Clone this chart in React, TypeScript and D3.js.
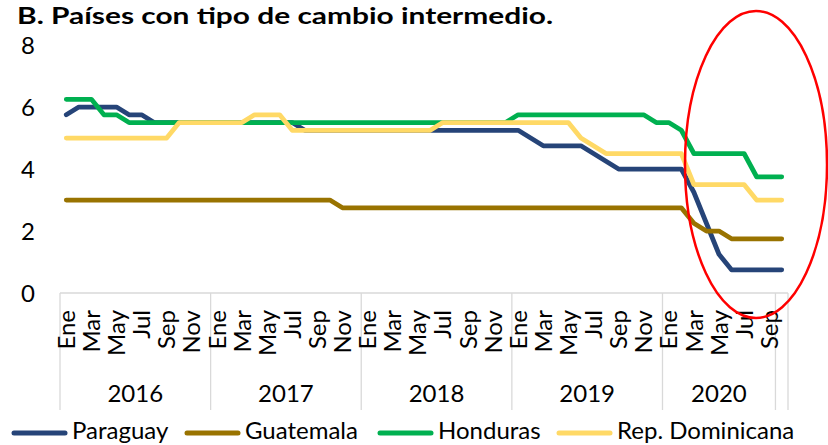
import React from "react";
import * as d3 from "d3";

// Monthly policy rates, Ene 2016 .. Oct 2020 (58 months)
const monthNames = ["Ene", "Feb", "Mar", "Abr", "May", "Jun", "Jul", "Ago", "Sep", "Oct", "Nov", "Dic"];
const years = ["2016", "2017", "2018", "2019", "2020"];
const monthsPerYear = [12, 12, 12, 12, 9]; // last month (Oct 2020) sits outside the year groups
const yTicks = [0, 2, 4, 6, 8];

const paraguay = [
  5.75, 6, 6, 6, 6, 5.75, 5.75, 5.5, 5.5, 5.5, 5.5, 5.5,
  5.5, 5.5, 5.5, 5.5, 5.5, 5.5, 5.5, 5.25, 5.25, 5.25, 5.25, 5.25,
  5.25, 5.25, 5.25, 5.25, 5.25, 5.25, 5.25, 5.25, 5.25, 5.25, 5.25, 5.25,
  5.25, 5.0, 4.75, 4.75, 4.75, 4.75, 4.5, 4.25, 4.0, 4.0, 4.0, 4.0,
  4.0, 4.0, 3.25, 2.25, 1.25, 0.75, 0.75, 0.75, 0.75, 0.75,
];
const guatemala = [
  3, 3, 3, 3, 3, 3, 3, 3, 3, 3, 3, 3,
  3, 3, 3, 3, 3, 3, 3, 3, 3, 3, 2.75, 2.75,
  2.75, 2.75, 2.75, 2.75, 2.75, 2.75, 2.75, 2.75, 2.75, 2.75, 2.75, 2.75,
  2.75, 2.75, 2.75, 2.75, 2.75, 2.75, 2.75, 2.75, 2.75, 2.75, 2.75, 2.75,
  2.75, 2.75, 2.25, 2.0, 2.0, 1.75, 1.75, 1.75, 1.75, 1.75,
];
const honduras = [
  6.25, 6.25, 6.25, 5.75, 5.75, 5.5, 5.5, 5.5, 5.5, 5.5, 5.5, 5.5,
  5.5, 5.5, 5.5, 5.5, 5.5, 5.5, 5.5, 5.5, 5.5, 5.5, 5.5, 5.5,
  5.5, 5.5, 5.5, 5.5, 5.5, 5.5, 5.5, 5.5, 5.5, 5.5, 5.5, 5.5,
  5.75, 5.75, 5.75, 5.75, 5.75, 5.75, 5.75, 5.75, 5.75, 5.75, 5.75, 5.5,
  5.5, 5.25, 4.5, 4.5, 4.5, 4.5, 4.5, 3.75, 3.75, 3.75,
];
const repDominicana = [
  5, 5, 5, 5, 5, 5, 5, 5, 5, 5.5, 5.5, 5.5,
  5.5, 5.5, 5.5, 5.75, 5.75, 5.75, 5.25, 5.25, 5.25, 5.25, 5.25, 5.25,
  5.25, 5.25, 5.25, 5.25, 5.25, 5.25, 5.5, 5.5, 5.5, 5.5, 5.5, 5.5,
  5.5, 5.5, 5.5, 5.5, 5.5, 5.0, 4.75, 4.5, 4.5, 4.5, 4.5, 4.5,
  4.5, 4.5, 3.5, 3.5, 3.5, 3.5, 3.5, 3.0, 3.0, 3.0,
];

const seriesNames = ["Paraguay", "Guatemala", "Honduras", "Rep. Dominicana"];
const seriesColors = ["#264478", "#997300", "#00B050", "#FFD966"];
const seriesData = [paraguay, guatemala, honduras, repDominicana];

const font = "Lato, 'DejaVu Sans', sans-serif";

export default function App() {
  const width = 828;
  const height = 445;
  const n = paraguay.length;

  const x = d3.scaleBand<number>().domain(d3.range(n)).range([60, 788]);
  const y = d3.scaleLinear().domain([0, 8]).range([293, 45]);
  const bw = x.bandwidth();
  const cx = (i: number) => (x(i) as number) + bw / 2;
  const edge = (i: number) => 60 + i * bw;

  const line = d3.line<number>()
    .x((d, i) => cx(i))
    .y((d) => y(d));

  // year group boundaries (category index)
  const bounds = [0];
  monthsPerYear.forEach((m) => bounds.push(bounds[bounds.length - 1] + m));
  bounds.push(n);

  const legendX = [12, 185, 378, 557];

  return (
    <svg width={width} height={height} style={{ position: "absolute", left: 0, top: 0 }} fontFamily={font}>
      <rect width={width} height={height} fill="#fff" />
      <text x={17} y={24} fontSize={23} fontWeight="bold" fill="#000" textLength={536} lengthAdjust="spacingAndGlyphs">
        B. Países con tipo de cambio intermedio.
      </text>

      {yTicks.map((t) => (
        <text key={t} x={35} y={y(t)} dy="0.36em" textAnchor="end" fontSize={24} fill="#000">
          {t}
        </text>
      ))}

      <line x1={60} x2={788} y1={293} y2={293} stroke="#d9d9d9" strokeWidth={1.3} />
      {bounds.map((b, k) => (
        <line key={k} x1={edge(b)} x2={edge(b)} y1={293} y2={410} stroke="#d9d9d9" strokeWidth={1.3} />
      ))}

      {d3.range(n).filter((i) => i % 2 === 0).map((i) => (
        <text key={i} transform={`translate(${cx(i)},310) rotate(-90)`} dy="0.36em"
          textAnchor="end" fontSize={24} fill="#000">
          {monthNames[i % 12]}
        </text>
      ))}

      {years.map((yr, k) => (
        <text key={yr} x={(edge(bounds[k]) + edge(bounds[k + 1])) / 2} y={402} textAnchor="middle" fontSize={24} fill="#000">
          {yr}
        </text>
      ))}

      {seriesData.map((s, k) => (
        <path key={k} d={line(s) as string} fill="none" stroke={seriesColors[k]} strokeWidth={4.75}
          strokeLinejoin="round" strokeLinecap="round" />
      ))}

      <ellipse cx={756} cy={164.5} rx={71} ry={153.5} fill="none" stroke="#ff0000" strokeWidth={2.5} />

      {seriesNames.map((name, k) => (
        <g key={name} transform={`translate(${legendX[k]},433)`}>
          <line x1={2} x2={53} y1={0} y2={0} stroke={seriesColors[k]} strokeWidth={5} strokeLinecap="round" />
          <text x={60} y={6} fontSize={24} fill="#000">{name}</text>
        </g>
      ))}
    </svg>
  );
}
